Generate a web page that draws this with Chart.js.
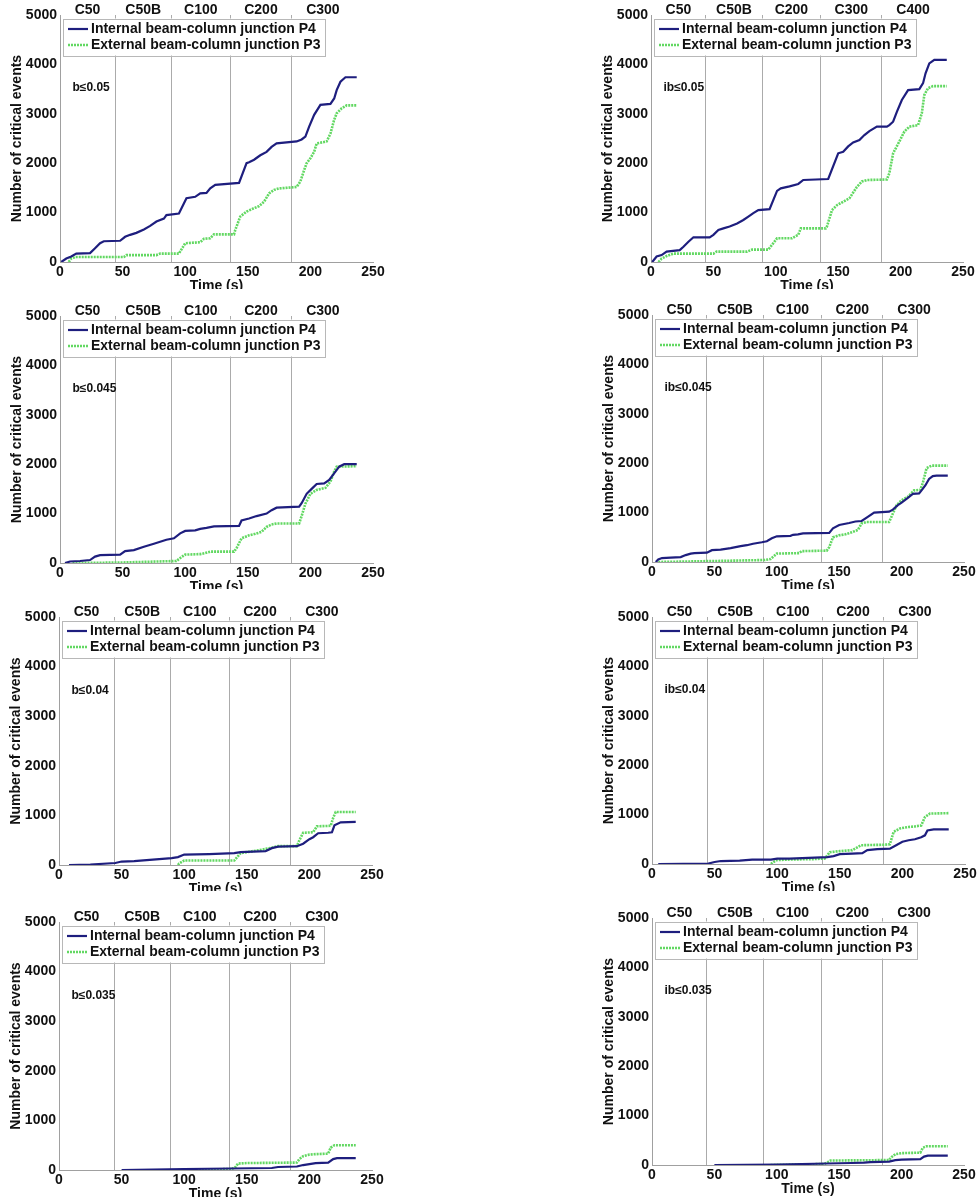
<!DOCTYPE html>
<html>
<head>
<meta charset="utf-8">
<title>Critical events over time</title>
<script src="https://cdn.jsdelivr.net/npm/chart.js@4.4.1/dist/chart.umd.min.js"></script>
<style>
  html, body { margin: 0; padding: 0; background: #fff; }
  body { width: 978px; height: 1197px; position: relative; overflow: hidden; }
  .panel { position: absolute; overflow: hidden; }
  .panel canvas { position: absolute; left: 0; top: 0; }
</style>
</head>
<body>
<script>
// ---- series data: time (s) and cumulative number of critical events ----
// b <= 0.05
const b050IntT = [1, 5, 9, 13, 24, 28, 32, 35, 48, 52, 56, 61, 67, 72, 77, 83, 85, 95, 101, 108, 112, 117, 120, 124, 143, 149, 151, 155, 160, 165, 169, 173, 189, 193, 196, 199, 203, 208, 216, 219, 221, 224, 228, 237];
const b050IntN = [0, 70, 110, 170, 180, 280, 380, 420, 430, 510, 550, 590, 660, 730, 820, 880, 950, 980, 1290, 1320, 1390, 1400, 1490, 1560, 1600, 2000, 2020, 2070, 2160, 2230, 2330, 2400, 2440, 2480, 2540, 2740, 2980, 3180, 3200, 3310, 3480, 3650, 3740, 3740];
const b050ExtT = [7, 9, 12, 51, 53, 77, 80, 95, 100, 112, 115, 120, 123, 139, 140, 144, 149, 155, 159, 163, 167, 171, 175, 189, 192, 195, 197, 200, 203, 205, 213, 216, 219, 221, 225, 229, 237];
const b050ExtN = [0, 70, 100, 100, 140, 140, 170, 170, 380, 400, 470, 480, 560, 560, 650, 920, 1020, 1090, 1130, 1220, 1390, 1460, 1490, 1520, 1630, 1860, 2000, 2100, 2230, 2400, 2440, 2600, 2880, 3010, 3110, 3170, 3170];
// ib <= 0.05
const ib050IntT = [1, 4.5, 8.5, 12.5, 23, 26, 30, 34, 47, 50, 54, 58, 63, 69, 74, 78, 82, 86, 95, 101, 104, 111, 118, 122, 142, 150, 154, 158, 162, 167, 171, 175, 181, 189, 191, 194, 197, 201, 206, 215, 218, 220, 223, 227, 237];
const ib050IntN = [0, 110, 140, 210, 240, 310, 410, 500, 500, 550, 650, 680, 720, 780, 850, 920, 990, 1050, 1070, 1440, 1490, 1530, 1580, 1660, 1680, 2200, 2230, 2340, 2420, 2470, 2570, 2650, 2740, 2740, 2770, 2840, 3040, 3280, 3480, 3500, 3620, 3820, 4020, 4090, 4090];
const ib050ExtT = [6, 8.5, 12.5, 18, 50, 52.5, 77, 81, 94, 101, 113, 118, 120, 140, 141, 145, 149, 154, 159, 165, 169, 173, 189, 191, 194, 199, 203, 207, 214, 217, 219, 222, 226, 237];
const ib050ExtN = [0, 70, 120, 170, 170, 210, 210, 250, 250, 480, 480, 550, 680, 680, 720, 1050, 1150, 1220, 1290, 1520, 1630, 1660, 1670, 1800, 2200, 2440, 2640, 2740, 2770, 3010, 3380, 3520, 3560, 3560];
// b <= 0.045
const b045IntT = [4, 8, 16, 24, 28, 32, 48, 52, 59, 67, 75, 80, 85, 91, 96, 100, 108, 112, 117, 123, 143, 145, 151, 157, 165, 169, 173, 191, 193, 197, 201, 205, 211, 215, 217, 220, 223, 227, 237];
const b045IntN = [0, 30, 40, 60, 130, 160, 170, 240, 260, 330, 390, 430, 470, 500, 600, 650, 660, 690, 710, 740, 750, 860, 900, 950, 1000, 1070, 1120, 1140, 1210, 1400, 1500, 1600, 1610, 1680, 1750, 1850, 1950, 2000, 2000];
const b045ExtT = [10, 50, 77, 93, 97, 100, 112, 116, 120, 139, 141, 145, 151, 156, 161, 165, 169, 173, 191, 193, 196, 200, 205, 212, 216, 219, 221, 237];
const b045ExtN = [0, 10, 30, 40, 120, 170, 180, 200, 230, 230, 300, 500, 560, 590, 630, 730, 780, 800, 800, 950, 1200, 1400, 1480, 1520, 1650, 1850, 1950, 1960];
// ib <= 0.045
const ib045IntT = [3, 5, 8, 15, 23, 27, 31, 34, 44, 48, 55, 63, 71, 76, 81, 88, 92, 96, 100, 111, 113, 117, 121, 142, 145, 150, 158, 163, 168, 172, 178, 190, 193, 197, 200, 205, 209, 214, 216, 219, 222, 225, 228, 237];
const ib045IntN = [0, 50, 80, 90, 100, 140, 170, 180, 190, 240, 250, 280, 320, 340, 370, 400, 420, 480, 520, 530, 550, 560, 580, 590, 680, 750, 790, 820, 830, 900, 1000, 1020, 1060, 1150, 1200, 1300, 1380, 1390, 1450, 1550, 1680, 1740, 1750, 1750];
const ib045ExtT = [5, 50, 90, 95, 100, 118, 120, 140, 142, 145, 150, 155, 160, 165, 168, 172, 190, 193, 196, 200, 205, 210, 215, 217, 220, 224, 237];
const ib045ExtN = [0, 20, 40, 60, 170, 180, 220, 230, 300, 500, 540, 560, 600, 650, 780, 810, 810, 980, 1150, 1250, 1320, 1450, 1460, 1600, 1900, 1950, 1950];
// b <= 0.04
const b040IntT = [8, 25, 45, 50, 60, 70, 80, 90, 95, 100, 120, 130, 140, 145, 155, 165, 170, 175, 190, 195, 200, 203, 207, 215, 218, 220, 225, 237];
const b040IntN = [0, 10, 40, 70, 80, 100, 120, 140, 160, 210, 220, 230, 240, 260, 270, 280, 340, 370, 380, 430, 520, 560, 640, 650, 660, 800, 860, 870];
const b040ExtT = [95, 96, 100, 140, 142, 145, 150, 160, 170, 175, 190, 192, 195, 203, 206, 217, 219, 221, 237];
const b040ExtN = [0, 30, 90, 90, 150, 240, 260, 300, 350, 380, 380, 500, 650, 660, 780, 790, 950, 1070, 1070];
// ib <= 0.04
const ib040IntT = [5, 45, 50, 55, 70, 75, 80, 95, 100, 110, 120, 130, 140, 145, 150, 160, 168, 172, 180, 190, 195, 200, 205, 210, 215, 218, 220, 225, 237];
const ib040IntN = [0, 10, 40, 60, 70, 80, 90, 90, 110, 110, 120, 130, 140, 160, 200, 210, 220, 280, 300, 310, 380, 450, 480, 500, 540, 580, 680, 700, 700];
const ib040ExtT = [95, 97, 100, 110, 130, 138, 142, 150, 160, 167, 185, 190, 193, 198, 205, 210, 215, 218, 222, 237];
const ib040ExtN = [0, 40, 80, 90, 100, 110, 240, 260, 280, 380, 390, 400, 650, 720, 750, 760, 780, 950, 1020, 1030];
// b <= 0.035
const b035IntT = [50, 100, 137, 170, 175, 190, 195, 200, 205, 215, 219, 222, 237];
const b035IntN = [0, 20, 30, 40, 60, 70, 100, 120, 140, 150, 220, 240, 240];
const b035ExtT = [95, 138, 141, 143, 150, 190, 192, 195, 200, 205, 215, 217, 220, 237];
const b035ExtN = [0, 20, 60, 130, 140, 150, 220, 280, 310, 320, 330, 450, 500, 500];
// ib <= 0.035
const ib035IntT = [50, 100, 120, 140, 160, 170, 175, 190, 195, 200, 215, 218, 221, 237];
const ib035IntN = [0, 10, 20, 30, 40, 50, 60, 70, 100, 110, 120, 170, 190, 190];
const ib035ExtT = [95, 138, 141, 143, 190, 192, 195, 200, 215, 217, 220, 237];
const ib035ExtN = [0, 20, 60, 90, 100, 160, 220, 240, 250, 350, 380, 380];

// ---- labels ----
const seriesLabels = ['Internal beam-column junction P4', 'External beam-column junction P3'];
const stageLabels = ['C50', 'C50B', 'C100', 'C200', 'C300'];
const stageLabelsAlt = ['C50', 'C50B', 'C200', 'C300', 'C400'];
const stageBounds = [0, 44, 89, 136, 185, 235];   // stage change times (s)
const timeTicks = [0, 50, 100, 150, 200, 250];
const countTicks = [0, 1000, 2000, 3000, 4000, 5000];
const xTitle = 'Time (s)';
const yTitle = 'Number of critical events';

// ---- page layout: plot area [left, top, right, bottom] and the crop line under each panel ----
const panels = [
  { tag: 'b\u22640.05',   stages: stageLabels,    area: [60, 15, 373, 262],    crop: 289,  intT: b050IntT,  intN: b050IntN,  extT: b050ExtT,  extN: b050ExtN },
  { tag: 'ib\u22640.05',  stages: stageLabelsAlt, area: [651, 15, 963, 262],   crop: 289,  intT: ib050IntT, intN: ib050IntN, extT: ib050ExtT, extN: ib050ExtN },
  { tag: 'b\u22640.045',  stages: stageLabels,    area: [60, 316, 373, 563],   crop: 589,  intT: b045IntT,  intN: b045IntN,  extT: b045ExtT,  extN: b045ExtN },
  { tag: 'ib\u22640.045', stages: stageLabels,    area: [652, 315, 964, 562],  crop: 589,  intT: ib045IntT, intN: ib045IntN, extT: ib045ExtT, extN: ib045ExtN },
  { tag: 'b\u22640.04',   stages: stageLabels,    area: [59, 617, 372, 865],   crop: 891,  intT: b040IntT,  intN: b040IntN,  extT: b040ExtT,  extN: b040ExtN },
  { tag: 'ib\u22640.04',  stages: stageLabels,    area: [652, 617, 965, 864],  crop: 891,  intT: ib040IntT, intN: ib040IntN, extT: ib040ExtT, extN: ib040ExtN },
  { tag: 'b\u22640.035',  stages: stageLabels,    area: [59, 922, 372, 1170],  crop: 1197, intT: b035IntT,  intN: b035IntN,  extT: b035ExtT,  extN: b035ExtN },
  { tag: 'ib\u22640.035', stages: stageLabels,    area: [652, 918, 964, 1165], crop: 1197, intT: ib035IntT, intN: ib035IntN, extT: ib035ExtT, extN: ib035ExtN }
];

const FONT = '"Liberation Sans", Arial, Helvetica, sans-serif';
const INK = '#111111';
const AXIS_GRAY = '#a0a0a0';
const STAGE_GRAY = '#ababab';
const INT_COLOR = '#1e1e7e';
const EXT_COLOR = '#62d862';
const TAG_POS = { t: 10, n: 3520 };

Chart.defaults.font.family = FONT;
Chart.defaults.font.weight = 'bold';
Chart.defaults.color = INK;

const stageMids = stageBounds.slice(0, -1).map((b, i) => (b + stageBounds[i + 1]) / 2);
const stageLines = stageBounds.slice(1, -1);

// Legend box (opaque, framed) and the b-value tag inside the plot area
const panelDecor = {
  id: 'panelDecor',
  afterDatasetsDraw(chart, args, opts) {
    const { ctx, chartArea: a } = chart;
    ctx.save();
    const bx = a.left + 3, by = a.top + 3.5, bw = 262, bh = 37;
    ctx.fillStyle = '#ffffff';
    ctx.fillRect(bx, by, bw, bh);
    ctx.strokeStyle = '#b8b8b8';
    ctx.lineWidth = 1;
    ctx.strokeRect(Math.round(bx) + 0.5, Math.round(by) + 0.5, bw, bh);
    chart.data.datasets.forEach((ds, i) => {
      const y = a.top + 14 + i * 16;
      ctx.strokeStyle = ds.borderColor;
      ctx.lineWidth = ds.borderWidth;
      ctx.setLineDash(ds.borderDash || []);
      ctx.beginPath();
      ctx.moveTo(a.left + 8, y);
      ctx.lineTo(a.left + 28, y);
      ctx.stroke();
      ctx.setLineDash([]);
      ctx.fillStyle = INK;
      ctx.font = 'bold 14px ' + FONT;
      ctx.textAlign = 'left';
      ctx.textBaseline = 'middle';
      ctx.fillText(ds.label, a.left + 31, y);
    });
    const xs = chart.scales.x, ys = chart.scales.y;
    ctx.font = 'bold 12px ' + FONT;
    ctx.fillStyle = INK;
    ctx.textAlign = 'left';
    ctx.textBaseline = 'middle';
    ctx.fillText(opts.tag, xs.getPixelForValue(TAG_POS.t), ys.getPixelForValue(TAG_POS.n));
    ctx.restore();
  }
};

const pts = (t, n) => t.map((v, i) => ({ x: v, y: n[i] }));

panels.forEach(p => {
  const [L, T, R, B] = p.area;
  const cw = (R - L) + 60 + 30;
  const ch = (B - T) + 15 + 40;
  const wrap = document.createElement('div');
  wrap.className = 'panel';
  wrap.style.left = (L - 60) + 'px';
  wrap.style.top = (T - 15) + 'px';
  wrap.style.width = cw + 'px';
  wrap.style.height = Math.min(ch, p.crop - (T - 15)) + 'px';
  const cv = document.createElement('canvas');
  cv.width = cw; cv.height = ch;
  cv.style.width = cw + 'px'; cv.style.height = ch + 'px';
  wrap.appendChild(cv);
  document.body.appendChild(wrap);

  new Chart(cv, {
    type: 'line',
    data: {
      datasets: [
        { label: seriesLabels[0], data: pts(p.intT, p.intN), borderColor: INT_COLOR, borderWidth: 2.2, pointRadius: 0, tension: 0, fill: false },
        { label: seriesLabels[1], data: pts(p.extT, p.extN), borderColor: EXT_COLOR, borderWidth: 2.6, borderDash: [2, 1], pointRadius: 0, tension: 0, fill: false }
      ]
    },
    options: {
      responsive: false,
      animation: false,
      devicePixelRatio: 1,
      layout: { padding: { left: 0, top: 0, right: 30, bottom: 0 } },
      plugins: {
        legend: { display: false },
        tooltip: { enabled: false },
        panelDecor: { tag: p.tag }
      },
      scales: {
        x: {
          type: 'linear', position: 'bottom', min: timeTicks[0], max: timeTicks[timeTicks.length - 1],
          afterBuildTicks: s => { s.ticks = timeTicks.map(v => ({ value: v })); },
          ticks: { callback: v => String(v), padding: 2, maxRotation: 0, autoSkip: false, font: { size: 14, weight: 'bold' }, color: INK },
          grid: { display: false, drawTicks: false },
          border: { display: true, color: AXIS_GRAY, width: 1 },
          title: { display: true, text: xTitle, color: INK, font: { size: 14, weight: 'bold' }, padding: { top: 0, bottom: 7.6 } },
          afterFit: s => { s.height = 40; }
        },
        y: {
          type: 'linear', position: 'left', min: countTicks[0], max: countTicks[countTicks.length - 1],
          afterBuildTicks: s => { s.ticks = countTicks.map(v => ({ value: v })); },
          ticks: { callback: v => String(v), padding: 3, font: { size: 14, weight: 'bold' }, color: INK },
          grid: { display: false, drawTicks: false },
          border: { display: true, color: AXIS_GRAY, width: 1 },
          title: { display: true, text: yTitle, color: INK, font: { size: 14, weight: 'bold' }, padding: { top: 8.6, bottom: 0 } },
          afterFit: s => { s.width = 60; }
        },
        xt: {
          type: 'linear', position: 'top', min: 0, max: 250,
          afterBuildTicks: s => { s.ticks = stageMids.map(v => ({ value: v })); },
          ticks: { callback: (v, i) => p.stages[i], padding: -3.4, autoSkip: false, maxRotation: 0, font: { size: 14, weight: 'bold' }, color: INK },
          grid: { display: false, drawTicks: false },
          border: { display: false },
          afterFit: s => { s.height = 15; }
        },
        xb: {
          type: 'linear', position: 'top', min: 0, max: 250,
          afterBuildTicks: s => { s.ticks = stageLines.map(v => ({ value: v })); },
          ticks: { display: false },
          grid: { display: true, drawTicks: false, color: STAGE_GRAY, lineWidth: 1 },
          border: { display: false },
          afterFit: s => { s.height = 0; }
        }
      }
    },
    plugins: [panelDecor]
  });
});
</script>
</body>
</html>
